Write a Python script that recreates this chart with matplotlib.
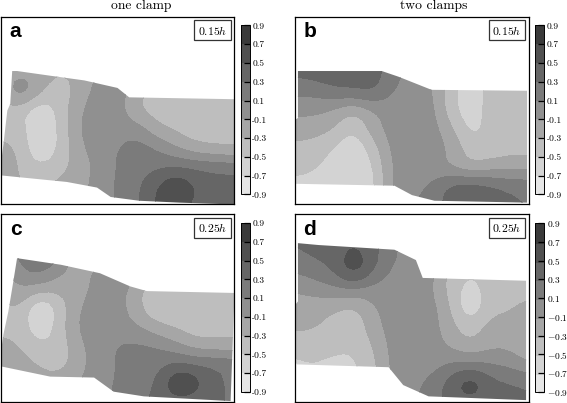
import numpy as np
import matplotlib
matplotlib.use("Agg")
import matplotlib.pyplot as plt
from matplotlib.colors import ListedColormap, BoundaryNorm
from matplotlib.patches import Polygon

plt.rcParams['mathtext.fontset'] = 'cm'
plt.rcParams['font.family'] = ['cmr10', 'DejaVu Serif']
plt.rcParams['axes.unicode_minus'] = False

W, H = 567, 403

levels = [-0.9, -0.7, -0.5, -0.3, -0.1, 0.1, 0.3, 0.5, 0.7, 0.9]
greys = ['#e6e6e6', '#d3d3d3', '#bebebe', '#a6a6a6', '#909090',
         '#7b7b7b', '#666666', '#505050', '#3a3a3a']

# field, rows go from the bottom up
field_a = [
    [-.2, -.3, -.3, -.25, -.2, 0, .12, .25, .55, .6, .45, .35, .35],
    [-.2, -.3, -.3, -.25, -.2, 0, .12, .25, .5, .72, .5, .38, .38],
    [-.05, -.35, -.5, -.38, -.22, -.05, .12, .2, .25, .3, .28, .25, .25],
    [-.22, -.35, -.7, -.5, -.15, 0, .1, .2, .1, -.1, -.25, -.3, -.35],
    [-.4, -.4, -.72, -.5, -.08, 0, 0, .02, -.25, -.35, -.42, -.42, -.35],
    [-.4, -.42, -.72, -.45, -.12, 0, 0, -.3, -.4, -.42, -.42, -.42, -.3],
    [-.3, .12, -.25, -.42, -.25, 0, .02, -.25, -.4, -.4, -.4, -.4, -.4],
    [-.25, -.12, -.22, -.3, -.25, -.1, 0, -.1, -.3, -.4, -.4, -.4, -.4],
    [-.3, -.25, -.25, -.25, -.25, -.2, -.1, -.1, -.3, -.4, -.4, -.4, -.4],
]
field_b = [
    [-.6, -.6, -.6, -.62, -.6, -.05, .08, .2, .4, .42, .42, .35, .3],
    [-.6, -.6, -.62, -.65, -.6, -.05, .05, .1, .38, .42, .35, .25, .22],
    [-.4, -.48, -.6, -.68, -.55, -.05, 0, 0, -.15, -.3, -.22, -.18, -.15],
    [-.35, -.38, -.52, -.68, -.42, -.02, 0, 0, -.12, -.42, -.42, -.38, -.42],
    [-.22, -.22, -.3, -.52, -.2, 0, 0, 0, -.25, -.6, -.42, -.25, -.28],
    [-.05, -.05, -.15, -.32, -.12, 0, 0, 0, -.45, -.62, -.42, -.4, -.4],
    [.15, .15, .28, .3, .35, .08, 0, -.05, -.45, -.65, -.42, -.4, -.4],
    [.35, .4, .4, .4, .4, .2, 0, -.1, -.4, -.6, -.45, -.4, -.4],
    [.35, .4, .4, .4, .4, .2, 0, -.1, -.4, -.6, -.45, -.4, -.4],
]
field_c = [
    [-.18, -.18, -.18, -.18, -.1, .02, .15, .25, .35, .4, .35, .3, .3],
    [-.18, -.18, -.18, -.18, -.1, .02, .12, .2, .3, .75, .65, .3, .3],
    [-.1, -.2, -.32, -.42, -.18, 0, .12, .15, .22, .35, .3, .3, .25],
    [-.22, -.32, -.48, -.45, -.15, 0, .12, .15, .1, -.05, -.22, -.25, -.25],
    [-.38, -.38, -.68, -.42, -.05, 0, 0, -.08, -.25, -.35, -.42, -.38, -.38],
    [-.4, -.28, -.8, -.45, -.1, 0, 0, -.25, -.5, -.42, -.42, -.42, -.42],
    [-.22, -.1, -.22, -.25, -.2, -.02, 0, -.22, -.5, -.4, -.38, -.38, -.35],
    [-.25, .05, .2, -.05, -.2, -.05, 0, 0, -.3, -.3, -.3, -.3, -.3],
    [-.3, .25, .35, .2, -.3, -.2, -.1, -.1, -.3, -.3, -.3, -.3, -.3],
]
field_d = [
    [-.55, -.55, -.55, -.55, -.38, -.05, .05, .2, .38, .4, .38, .35, .3],
    [-.55, -.55, -.55, -.55, -.38, -.05, .05, .15, .42, .72, .38, .32, .3],
    [-.55, -.5, -.58, -.55, -.38, -.02, 0, 0, .12, .15, .1, .05, -.1],
    [-.42, -.42, -.42, -.48, -.3, -.02, 0, 0, -.15, -.3, -.15, -.15, -.28],
    [-.25, -.28, -.38, -.45, -.2, 0, 0, 0, -.25, -.42, -.22, -.25, -.15],
    [-.22, -.22, -.28, -.38, -.12, 0, 0, 0, -.32, -.72, -.35, -.32, -.22],
    [-.08, -.02, .05, .08, 0, 0, 0, -.05, -.42, -.58, -.42, -.4, -.4],
    [.12, .2, .32, .68, .32, .05, 0, 0, -.4, -.5, -.42, -.4, -.4],
    [.3, .35, .38, .6, .38, .15, -.02, -.1, -.4, -.5, -.42, -.4, -.4],
    [.3, .35, .35, .4, .32, .12, -.05, -.1, -.4, -.5, -.42, -.4, -.4],
]

# outline of the measured area
outline_a = [(.6, 7.1), (.85, 7.1), (2.55, 6.85), (4.3, 6.6), (6, 6.2), (6.6, 5.7), (12, 5.6),
             (12, 0), (9.2, .1), (7.1, .2), (5.65, .4), (4.95, .9), (3.4, 1.2), (0, 1.55),
             (0, 2), (.15, 3.2), (.35, 5), (.5, 5.35)]
outline_b = [(.15, 7.1), (4.45, 7.1), (5.3, 6.8), (7, 6.1), (11.9, 6.05), (11.9, .1), (7.15, .2),
             (6, .5), (5.1, 1), (.1, 1.1), (0, 1.1), (0, 4.5), (.15, 4.6)]
outline_c = [(.85, 7.65), (3.1, 7.3), (5.1, 6.85), (6.65, 6.15), (7.5, 5.9), (12, 5.8), (11.8, .05),
             (7.35, .3), (5.8, .55), (4.8, 1.3), (2.55, 1.35), (0, 1.9), (0, 2.5), (.15, 3.6),
             (.4, 4.8), (.6, 6.05)]
outline_d = [(.15, 8.45), (1.2, 8.35), (5.1, 8.1), (6.2, 7.55), (6.55, 6.6), (11.85, 6.45), (11.85, .1),
             (6.85, .3), (5.55, .9), (4.8, 1.85), (.1, 2), (0, 2.15), (0, 5.15), (.15, 5.35)]

fields = [field_a, field_b, field_c, field_d]
outlines = [outline_a, outline_b, outline_c, outline_d]
letters = ['a', 'b', 'c', 'd']
times = ['0.15', '0.15', '0.25', '0.25']


def px_axes(x0, y0, x1, y1):
    return fig.add_axes([x0 / W, 1 - y1 / H, (x1 - x0) / W, (y1 - y0) / H])


# only rounds the contours, the coarse grid gives angular bands otherwise
def refine(z, n=4):
    ny, nx = z.shape
    xf = np.linspace(0, nx - 1, (nx - 1) * n + 1)
    yf = np.linspace(0, ny - 1, (ny - 1) * n + 1)
    rows = np.array([np.interp(xf, np.arange(nx), r) for r in z])
    fine = np.array([np.interp(yf, np.arange(ny), c) for c in rows.T]).T
    pad = n // 2
    for axis in (0, 1):
        p = np.pad(fine, [(pad, pad) if a == axis else (0, 0) for a in (0, 1)], mode='edge')
        fine = np.apply_along_axis(lambda v: np.convolve(v, np.ones(n + 1) / (n + 1), 'valid'), axis, p)
    return xf, yf, fine


fig = plt.figure(figsize=(W / 100, H / 100), dpi=100)
cmap = ListedColormap(greys)
norm = BoundaryNorm(levels, cmap.N)

lefts = [0.5, 295, 0.5, 295]
tops = [16.5, 16.5, 214, 214]

for i in range(4):
    x0, y0 = lefts[i], tops[i]
    ax = px_axes(x0, y0, x0 + 234, y0 + 188)
    xf, yf, zf = refine(np.array(fields[i]))
    cs = ax.contourf(xf, yf, zf, levels=levels, cmap=cmap, norm=norm)
    clip = Polygon(outlines[i], closed=True, transform=ax.transData, fc='none', ec='none')
    ax.add_patch(clip)
    cs.set_clip_path(clip)
    ax.set_xlim(0, 12)
    ax.set_ylim(0, 10)
    ax.set_xticks([])
    ax.set_yticks([])
    for s in ax.spines.values():
        s.set_linewidth(0.9)
    ax.text(15 / 234, 0.92, letters[i], transform=ax.transAxes, family='Liberation Sans',
            weight='bold', fontsize=15, ha='center', va='center')
    ax.text(212 / 234, 0.927, '$' + times[i] + 'h$', transform=ax.transAxes, fontsize=8.5,
            ha='center', va='center',
            bbox=dict(boxstyle='square,pad=0.3', fc='white', ec='#333333', lw=0.9))

    # colourbar
    cax = px_axes(x0 + 240, y0 + 9, x0 + 249, y0 + 178)
    cb = fig.colorbar(cs, cax=cax, ticks=levels)
    cb.solids.set_edgecolor('face')
    cb.ax.set_yticklabels(['$\\mathbf{%.1f}$' % v if v > 0 else '$-\\mathbf{%.1f}$' % abs(v) for v in levels])
    cb.ax.tick_params(direction='in', length=4, width=0.9, pad=2, labelsize=6.8, color='black')
    cb.outline.set_linewidth(0.7)

fig.text(141 / W, 1 - 5.5 / H, 'one clamp', fontsize=9.8, ha='center', va='center')
fig.text(434 / W, 1 - 5.5 / H, 'two clamps', fontsize=9.8, ha='center', va='center')

fig.savefig('out.png', dpi=100)
